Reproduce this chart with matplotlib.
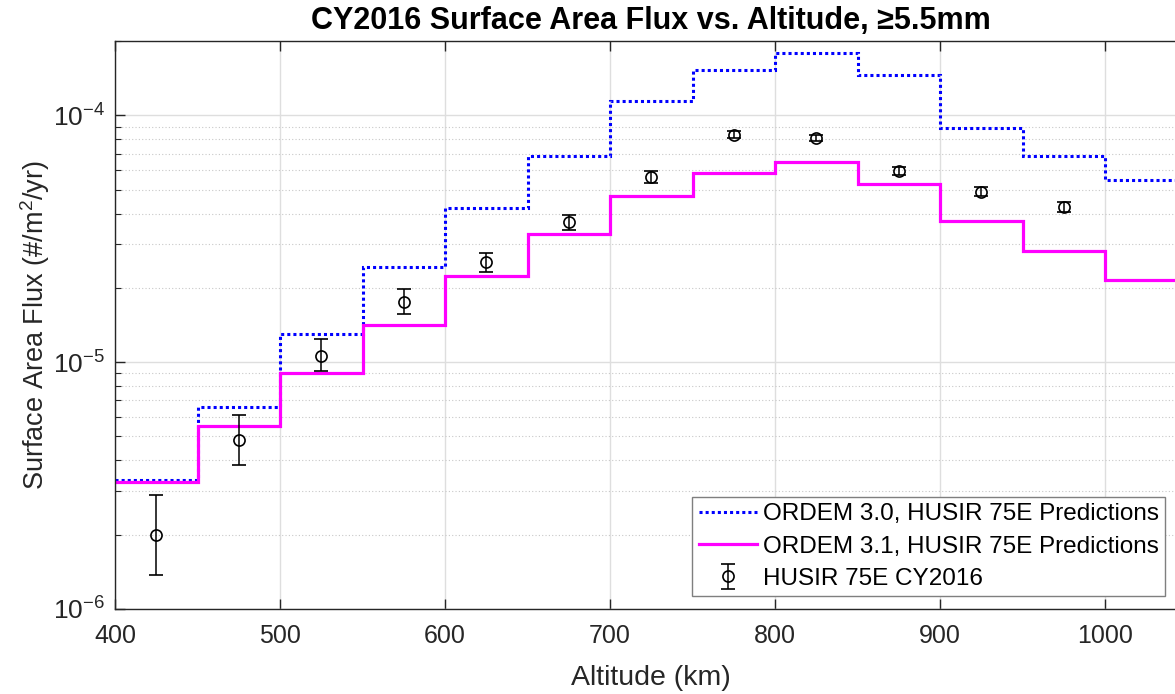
import matplotlib
matplotlib.use("Agg")
import matplotlib.pyplot as plt
import numpy as np
from matplotlib.ticker import LogLocator, LogFormatterSciNotation, NullFormatter

# altitude bin edges (km)
bin_edges = [400, 450, 500, 550, 600, 650, 700, 750, 800, 850, 900, 950, 1000, 1050]

# ORDEM 3.0 predictions per bin
ordem30 = [3.34e-6, 6.59e-6, 1.30e-5, 2.43e-5, 4.23e-5, 6.84e-5, 1.14e-4,
           1.52e-4, 1.78e-4, 1.46e-4, 8.88e-5, 6.84e-5, 5.47e-5]

# ORDEM 3.1 predictions per bin
ordem31 = [3.26e-6, 5.52e-6, 9.00e-6, 1.41e-5, 2.24e-5, 3.32e-5, 4.73e-5,
           5.86e-5, 6.47e-5, 5.29e-5, 3.72e-5, 2.81e-5, 2.16e-5]

# HUSIR 75E CY2016 measurements (bin centres)
husir_alt = [425, 475, 525, 575, 625, 675, 725, 775, 825, 875, 925, 975]
husir_flux = [1.99e-6, 4.83e-6, 1.06e-5, 1.75e-5, 2.55e-5, 3.70e-5, 5.63e-5,
              8.35e-5, 8.09e-5, 5.97e-5, 4.89e-5, 4.24e-5]
husir_lo = [1.37e-6, 3.83e-6, 9.19e-6, 1.57e-5, 2.32e-5, 3.44e-5, 5.34e-5,
            8.08e-5, 7.85e-5, 5.75e-5, 4.70e-5, 4.06e-5]
husir_hi = [2.89e-6, 6.10e-6, 1.24e-5, 1.97e-5, 2.78e-5, 3.96e-5, 5.93e-5,
            8.63e-5, 8.35e-5, 6.20e-5, 5.10e-5, 4.44e-5]

plt.rcParams["font.family"] = ["Liberation Sans", "DejaVu Sans"]
plt.rcParams["mathtext.fontset"] = "custom"
plt.rcParams["mathtext.rm"] = "Liberation Sans"

axcol = "#262626"
W, H = 1175, 694
fig = plt.figure(figsize=(W / 100, H / 100), dpi=100)
# axes run to 1050 km, a little past the right edge of the picture
ax = fig.add_axes([115 / W, (H - 609) / H, 1072.5 / W, (609 - 41) / H])

ax.stairs(ordem30, bin_edges, baseline=None, color="#0000ff", lw=2.2,
          linestyle=(0, (1, 1)), label="ORDEM 3.0, HUSIR 75E Predictions")
ax.stairs(ordem31, bin_edges, baseline=None, color="#ff00ff", lw=2.3,
          label="ORDEM 3.1, HUSIR 75E Predictions")

flux = np.array(husir_flux)
yerr = [flux - np.array(husir_lo), np.array(husir_hi) - flux]
ax.errorbar(husir_alt, flux, yerr=yerr, fmt="o", mfc="none", mec="black",
            ms=8, mew=1.2, ecolor="black", elinewidth=1.1, capsize=5,
            capthick=1.1, label="HUSIR 75E CY2016")

ax.set_yscale("log")
ax.set_xlim(400, 1050)
ax.set_ylim(1e-6, 2e-4)
ax.set_xticks(np.arange(400, 1001, 100))
ax.yaxis.set_major_locator(LogLocator(base=10, numticks=10))
ax.yaxis.set_major_formatter(LogFormatterSciNotation())
ax.yaxis.set_minor_locator(LogLocator(base=10, subs=np.arange(2, 10), numticks=20))
ax.yaxis.set_minor_formatter(NullFormatter())

ax.grid(True, which="major", color="#dedede", lw=1.0, ls="-")
ax.grid(True, which="minor", axis="y", color="#c8c8c8", lw=0.8, ls=(0, (1, 2)))
ax.set_axisbelow(True)

ax.tick_params(which="both", direction="in", top=True, right=True,
               colors=axcol, labelsize=18)
ax.tick_params(which="major", length=7, width=1)
ax.tick_params(which="minor", length=4, width=0.8)
ax.tick_params(axis="x", which="major", pad=11)
ax.tick_params(axis="y", which="major", pad=7, labelsize=19)
for sp in ax.spines.values():
    sp.set_color(axcol)
    sp.set_linewidth(1.0)

ax.set_xlabel("Altitude (km)", fontsize=20.5, color=axcol, labelpad=12)
ax.set_ylabel("Surface Area Flux (#/m$^2$/yr)", fontsize=19.5, color=axcol, labelpad=1)
ax.set_title("CY2016 Surface Area Flux vs. Altitude, \u22655.5mm",
             fontsize=22, fontweight="bold", pad=8.5)

leg = ax.legend(loc="lower right", bbox_to_anchor=((1165 - 115) / 1072.5, 13 / 568),
                fontsize=17.5, frameon=True, fancybox=False, framealpha=1,
                edgecolor="#7f7f7f", handlelength=2.4, handletextpad=0.25,
                borderpad=0.25, labelspacing=0.42, borderaxespad=0.0)
leg.get_frame().set_linewidth(1.0)

fig.savefig("out.png", dpi=100)
